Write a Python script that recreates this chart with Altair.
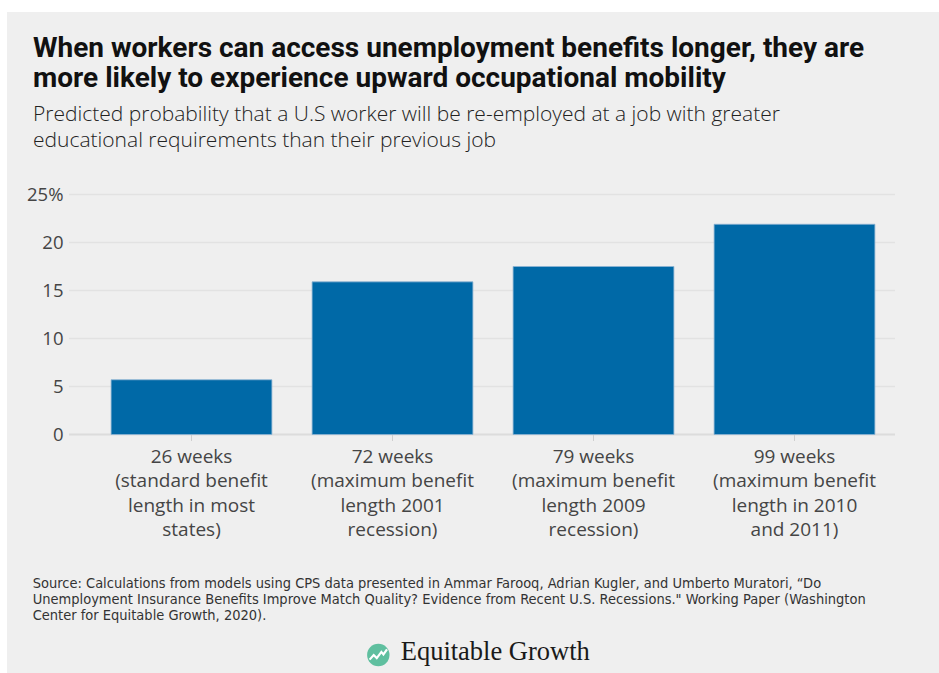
import altair as alt
import pandas as pd

# ---- data ----
categories = [
    "26 weeks|(standard benefit|length in most|states)",
    "72 weeks|(maximum benefit|length 2001|recession)",
    "79 weeks|(maximum benefit|length 2009|recession)",
    "99 weeks|(maximum benefit|length in 2010|and 2011)",
]
probabilities = [5.7, 15.9, 17.5, 21.9]
y_ticks = [0, 5, 10, 15, 20, 25]

title_text = ("When workers can access unemployment benefits longer, they are\n"
              "more likely to experience upward occupational mobility")
subtitle_text = ("Predicted probability that a U.S worker will be re-employed at a job with greater\n"
                 "educational requirements than their previous job")
source_text = ("Source: Calculations from models using CPS data presented in Ammar Farooq, Adrian Kugler, and Umberto Muratori, \u201cDo\n"
               "Unemployment Insurance Benefits Improve Match Quality? Evidence from Recent U.S. Recessions.\" Working Paper (Washington\n"
               "Center for Equitable Growth, 2020).")
logo_text = "Equitable Growth"

df = pd.DataFrame({"category": categories, "value": probabilities})
ticks_df = pd.DataFrame({"v": y_ticks})
one = pd.DataFrame({"k": [0]})

W, H = 804, 240
FONT = "Roboto"
LIGHT = "Open Sans"
BLUE = "#0069a7"

y_scale = alt.Scale(domain=[0, 25], nice=False)
y_axis = alt.Axis(
    values=y_ticks, labelExpr="datum.value == 25 ? '25%' : datum.label",
    labelFont=LIGHT, labelFontSize=18.5, labelColor="#454545",
    labelPadding=28, ticks=False, domain=False, grid=False, zindex=2,
)

x_enc = alt.X(
    "category:N", sort=None, title=None,
    scale=alt.Scale(paddingInner=0.2, paddingOuter=0.1),
    axis=alt.Axis(
        labelExpr="split(datum.label, '|')", labelAngle=0, labelFont=LIGHT,
        labelFontSize=19, labelColor="#454545", labelLineHeight=24.3,
        labelPadding=7, tickSize=6, tickColor="#cfcfcf", tickWidth=1,
        domain=False, grid=False, zindex=2,
    ),
)

background = alt.Chart(one).mark_rect(color="#efefef").encode(
    x=alt.value(-84), x2=alt.value(848), y=alt.value(-182.5), y2=alt.value(478.5)
)

grid = alt.Chart(ticks_df).transform_filter("datum.v > 0").mark_rule(
    color="#e2e2e2", strokeWidth=1.5
).encode(
    y=alt.Y("v:Q", scale=y_scale, axis=y_axis, title=None),
    x=alt.value(-22), x2=alt.value(W),
)

baseline = alt.Chart(ticks_df).transform_filter("datum.v == 0").mark_rule(
    color="#dcdcdc", strokeWidth=2.2
).encode(
    y=alt.Y("v:Q", scale=y_scale, axis=y_axis, title=None),
    x=alt.value(-22), x2=alt.value(W),
)

bars = alt.Chart(df).mark_bar(color=BLUE, stroke="#8db4d3", strokeWidth=0.8).encode(
    x=x_enc, y=alt.Y("value:Q", scale=y_scale, axis=y_axis, title=None)
)

title = alt.Chart(one).mark_text(
    align="left", baseline="alphabetic", font=FONT, fontWeight="bold",
    fontSize=28, color="#111111", lineBreak="\n", lineHeight=30.7,
).encode(x=alt.value(-58), y=alt.value(-137.8), text=alt.value(title_text))

subtitle = alt.Chart(one).mark_text(
    align="left", baseline="alphabetic", font=LIGHT, fontWeight=300,
    fontSize=21, color="#222222", lineBreak="\n", lineHeight=26,
).encode(x=alt.value(-58), y=alt.value(-73.5), text=alt.value(subtitle_text))

source = alt.Chart(one).mark_text(
    align="left", baseline="alphabetic", font="DejaVu Sans Condensed, Liberation Sans Narrow, Roboto",
    fontSize=14.5, color="#333333", lineBreak="\n", lineHeight=16,
).encode(x=alt.value(-58.3), y=alt.value(393.2), text=alt.value(source_text))

logo_circle = alt.Chart(one).mark_point(
    shape="circle", filled=True, color="#5fbf9f", opacity=1, size=500
).encode(x=alt.value(287.3), y=alt.value(460.5))

logo_zig = alt.Chart(one).mark_point(
    shape="M-0.85,0.45 L-0.45,0.0 L-0.15,0.3 L0.3,-0.3 L0.5,-0.05 L0.85,-0.55",
    filled=False, stroke="white", strokeWidth=2.2, opacity=1, size=420,
).encode(x=alt.value(287.3), y=alt.value(460.5))

logo = alt.Chart(one).mark_text(
    align="left", baseline="alphabetic", font="Liberation Serif",
    fontSize=26.5, color="#1a1a1a",
).encode(x=alt.value(309.7), y=alt.value(465.5), text=alt.value(logo_text))

chart = alt.layer(
    background, grid, baseline, bars, title, subtitle, source, logo_circle, logo_zig, logo
).properties(
    width=W, height=H,
    autosize=alt.AutoSizeParams(type="none"),
    padding={"left": 91, "top": 194.5, "right": 44, "bottom": 238.5},
    background="#ffffff",
).configure_view(stroke=None)

chart.save("out.html", embed_options={"renderer": "svg", "actions": False})
